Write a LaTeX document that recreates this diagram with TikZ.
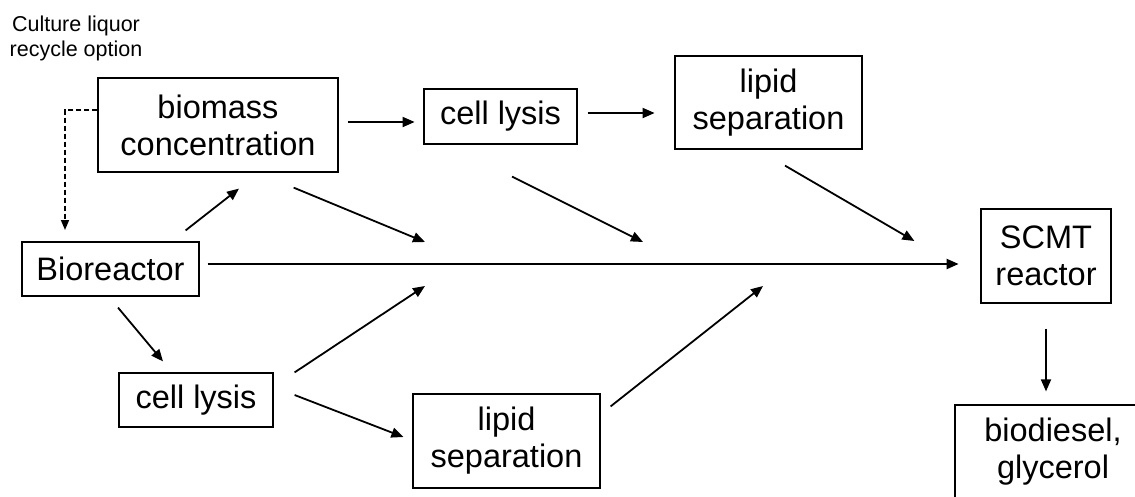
\documentclass[tikz,border=0pt]{standalone}
\usepackage{fontspec}
\setmainfont{Liberation Sans}
\usetikzlibrary{arrows.meta}
\begin{document}
\begin{tikzpicture}[x=1pt,y=-1pt,
  box/.style={draw, line width=1.2pt, inner sep=0pt, align=center,
    font=\fontsize{32.5}{37}\selectfont},
  note/.style={inner sep=0pt, align=center, font=\fontsize{21.5}{25}\selectfont},
  flow/.style={line width=1.8pt, -{Triangle[length=12pt,width=10pt]}},
  recycle/.style={line width=1.5pt, dash pattern=on 5pt off 3pt,
    -{Triangle[length=10pt,width=8pt]}},
]
\useasboundingbox (0,0) rectangle (1135,496);
\clip (0,0) rectangle (1135,496);

% process steps
\node[box, minimum width=240pt, minimum height=94pt] (bio) at (218,125) {biomass\\concentration};
\node[box, minimum width=177pt, minimum height=54pt] (reactor) at (110.5,269) {Bioreactor};
\node[box, minimum width=153pt, minimum height=55pt] (lysisA) at (500.5,116.5) {cell lysis};
\node[box, minimum width=187pt, minimum height=93pt] (lipidA) at (768.5,102.5) {lipid\\separation};
\node[box, minimum width=130pt, minimum height=94pt] (scmt) at (1046,256) {SCMT\\reactor};
\node[box, minimum width=154pt, minimum height=54pt] (lysisB) at (196,400) {cell lysis};
\node[box, minimum width=187pt, minimum height=94pt] (lipidB) at (506.5,441) {lipid\\separation};
\node[box, minimum width=196pt, minimum height=93pt] (fuel) at (1053,451.5) {biodiesel,\\glycerol};

\node[note] (recycleNote) at (76,38) {Culture liquor\\recycle option};

% points where side streams join the main line
\coordinate (j1) at (425,242);
\coordinate (j2) at (643,242);
\coordinate (j3) at (425,286);
\coordinate (j4) at (763,286);
\coordinate (recycleTip) at (65,230);

% recycle loop
\draw[recycle] ([yshift=15pt]bio.west) -| (recycleTip);

% main streams
\draw[flow] ([xshift=-14pt,yshift=11pt]reactor.north east) -- ([xshift=21pt,yshift=-16pt]bio.south);
\draw[flow] ([xshift=7.5pt,yshift=-11pt]reactor.south) -- ([xshift=-33pt,yshift=11pt]lysisB.north);
\draw[flow, line width=2.2pt] ([xshift=8pt,yshift=5pt]reactor.east) -- ++(751,0);
\draw[flow] ([xshift=9pt,yshift=3pt]bio.east) -- ++(67,0);
\draw[flow] ([xshift=10pt,yshift=3.5pt]lysisA.east) -- ++(67,0);
\draw[flow] ([xshift=16.5pt,yshift=-16pt]lipidA.south) -- ([xshift=-66pt,yshift=15pt]scmt.west);
\draw[flow] ([xshift=-45pt,yshift=-15pt]bio.south east) -- (j1);
\draw[flow] ([xshift=11.5pt,yshift=-32pt]lysisA.south) -- (j2);
\draw[flow] ([xshift=21pt]lysisB.north east) -- (j3);
\draw[flow] ([xshift=21pt,yshift=5pt]lysisB.east) -- ([xshift=-9pt,yshift=4pt]lipidB.west);
\draw[flow] ([xshift=10pt,yshift=-13pt]lipidB.north east) -- (j4);
\draw[flow, shorten <=25pt, shorten >=13pt] (scmt.south) -- (scmt.south |- fuel.north);
\end{tikzpicture}
\end{document}
